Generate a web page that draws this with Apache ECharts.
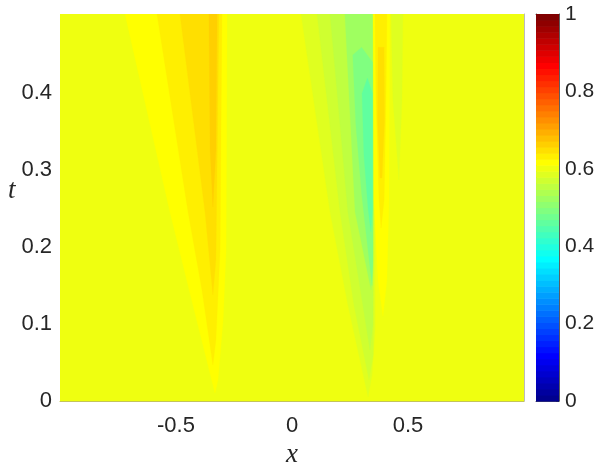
<!DOCTYPE html>
<html><head><meta charset="utf-8">
<script src="https://cdn.jsdelivr.net/npm/echarts@6/dist/echarts.min.js"></script>
<style>html,body{margin:0;padding:0;background:#fff}#c{width:598px;height:463px}</style>
</head><body><div id="c"></div>
<script>
// axis ranges and ticks
const xRange = [-1, 1];
const tRange = [0, 0.5033];
const xTicks = [-0.5, 0, 0.5];
const tTicks = [0, 0.1, 0.2, 0.3, 0.4];
const cbTicks = [0, 0.2, 0.4, 0.6, 0.8, 1];

// contour regions: outlines in (x, t) data units, painted in order
const background = [[-1, 0], [1, 0], [1, 0.5033], [-1, 0.5033]];
const leftA = [[-0.720,0.5033],[-0.621,0.3719],[-0.526,0.2458],[-0.427,0.1248],[-0.332,0.0104],[-0.319,0.0273],[-0.297,0.1053],[-0.284,0.1964],[-0.280,0.5033]];
const leftB = [[-0.582,0.5033],[-0.448,0.2458],[-0.388,0.1443],[-0.341,0.0468],[-0.328,0.0793],[-0.310,0.1964],[-0.302,0.5033]];
const leftC = [[-0.483,0.5033],[-0.375,0.2458],[-0.341,0.1378],[-0.328,0.1834],[-0.315,0.5033]];
const leftD = [[-0.358,0.5033],[-0.353,0.3264],[-0.341,0.2523],[-0.328,0.3264],[-0.323,0.5033]];
const rightE = [[0.039,0.5033],[0.164,0.2458],[0.241,0.1248],[0.328,0.0052],[0.345,0.0338],[0.358,0.0923],[0.358,0.5033]];
const rightF = [[0.108,0.5033],[0.207,0.2458],[0.267,0.1248],[0.332,0.0273],[0.350,0.0600],[0.355,0.5033]];
const rightG = [[0.164,0.5033],[0.241,0.2458],[0.302,0.1313],[0.336,0.0663],[0.349,0.1000],[0.352,0.5033]];
const rightH = [[0.228,0.5033],[0.272,0.2458],[0.341,0.1443],[0.348,0.1800],[0.350,0.5033]];
const rightI = [[0.262,0.4500],[0.275,0.3600],[0.300,0.2700],[0.330,0.1900],[0.345,0.1500],[0.349,0.1800],[0.349,0.4400],[0.300,0.4600]];
const rightJ = [[0.302,0.4000],[0.310,0.3200],[0.328,0.2500],[0.340,0.2200],[0.347,0.2500],[0.347,0.4000],[0.325,0.4200]];
const stripeK = [[0.349,0.5033],[0.353,0.2614],[0.371,0.1573],[0.392,0.1105],[0.409,0.1573],[0.418,0.2614],[0.422,0.5033]];
const stripeL = [[0.358,0.5033],[0.362,0.3914],[0.375,0.2614],[0.384,0.2250],[0.397,0.2614],[0.405,0.3914],[0.409,0.5033]];
const stripeM = [[0.371,0.4600],[0.369,0.3654],[0.379,0.2900],[0.388,0.2900],[0.399,0.3654],[0.397,0.4600]];
const stripeN = [[0.427,0.5033],[0.435,0.3914],[0.461,0.2874],[0.474,0.3914],[0.478,0.5033]];

const regionShapes = [background, leftA, leftB, leftC, leftD, rightE, rightF, rightG, rightH, rightI, rightJ, stripeK, stripeL, stripeM, stripeN];
const regionLevels = [0.600, 0.617, 0.633, 0.648, 0.664, 0.586, 0.570, 0.555, 0.523, 0.492, 0.461, 0.617, 0.633, 0.648, 0.586];

// MATLAB jet(64) colormap
function U(j){ if (j < 1 || j > 47) return 0; if (j <= 16) return j/16; if (j <= 31) return 1; return (48-j)/16; }
function jetRow(k){
  const c = [U(k-24), U(k-8), U(k+8)].map(v => Math.round(v*255));
  return 'rgb(' + c.join(',') + ')';
}
function jetColor(v){ const k = Math.max(1, Math.min(64, Math.floor(v*64)+1)); return jetRow(k); }
const cbRows = Array.from({length: 64}, (_, i) => [i]);

const txt = '#262626';
const sans = 'Liberation Sans';
const serif = 'Liberation Serif';
const hidden = {axisLabel:{show:false}, axisTick:{show:false}, splitLine:{show:false}};

const chart = echarts.init(document.getElementById('c'), null, {renderer:'canvas'});
chart.setOption({
  animation: false,
  backgroundColor: '#fff',
  grid: [
    {left: 60, top: 14, width: 464, height: 387, containLabel:false, outerBoundsMode:'none'},
    {left: 536, top: 14, width: 23, height: 387, containLabel:false, outerBoundsMode:'none'}
  ],
  xAxis: [
    {gridIndex:0, type:'value', min:xRange[0], max:xRange[1], interval:0.5,
     axisLine:{show:true, onZero:false, lineStyle:{color:'#c4c45a', width:1}},
     axisTick:{show:false}, splitLine:{show:false},
     axisLabel:{fontSize:22, color:txt, fontFamily:sans, margin:14,
       formatter: v => xTicks.some(t => Math.abs(t - v) < 1e-9) ? String(+v.toFixed(1)) : ''},
     name:'x', nameLocation:'middle', nameGap:40,
     nameTextStyle:{fontFamily:serif, fontStyle:'italic', fontSize:27, color:txt}},
    Object.assign({gridIndex:1, type:'value', min:0, max:1,
     axisLine:{show:true, onZero:false, lineStyle:{color:'#333', width:0.8}}}, hidden),
    Object.assign({gridIndex:1, type:'value', min:0, max:1, position:'top',
     axisLine:{show:true, onZero:false, lineStyle:{color:'#333', width:0.8}}}, hidden)
  ],
  yAxis: [
    {gridIndex:0, type:'value', min:tRange[0], max:tRange[1], interval:0.1,
     axisLine:{show:false}, axisTick:{show:false}, splitLine:{show:false},
     axisLabel:{fontSize:22, color:txt, fontFamily:sans, margin:8,
       formatter: v => tTicks.some(t => Math.abs(t - v) < 1e-9) ? String(+v.toFixed(1)) : ''},
     name:'t', nameLocation:'middle', nameRotate:0, nameGap:35,
     nameTextStyle:{fontFamily:serif, fontStyle:'italic', fontSize:27, color:txt, verticalAlign:'bottom', padding:[0,0,3,0]}},
    Object.assign({gridIndex:0, type:'value', min:tRange[0], max:tRange[1], position:'right',
     axisLine:{show:true, onZero:false, lineStyle:{color:'#bbbbbb', width:1}}}, hidden),
    {gridIndex:1, type:'value', min:0, max:1, interval:0.2, position:'right',
     axisLine:{show:true, onZero:false, lineStyle:{color:'#333', width:0.8}},
     axisTick:{show:true, inside:true, length:3, lineStyle:{color:'#333', width:0.8}},
     splitLine:{show:false},
     axisLabel:{fontSize:21, color:txt, fontFamily:sans, margin:6,
       formatter: v => cbTicks.some(t => Math.abs(t - v) < 1e-9) ? String(+v.toFixed(1)) : ''}},
    Object.assign({gridIndex:1, type:'value', min:0, max:1, position:'left',
     axisLine:{show:true, onZero:false, lineStyle:{color:'#333', width:0.8}}}, hidden)
  ],
  series: [
    {type:'custom', xAxisIndex:0, yAxisIndex:0, clip:true, silent:true,
     data: regionLevels.map((lv, i) => [i, lv]),
     renderItem: (params, api) => {
       const i = api.value(0);
       const pts = regionShapes[i].map(p => api.coord(p));
       return {type:'polygon', shape:{points: pts}, style:{fill: jetColor(api.value(1)), stroke: jetColor(api.value(1)), lineWidth: 0.3}};
     }},
    {type:'custom', xAxisIndex:1, yAxisIndex:2, silent:true, z:1,
     data: cbRows,
     renderItem: (params, api) => {
       const i = api.value(0);
       const p0 = api.coord([0, i/64]);
       const p1 = api.coord([1, (i+1)/64]);
       return {type:'rect', shape:{x:p0[0], y:p1[1], width:p1[0]-p0[0], height:p0[1]-p1[1]+0.6},
               style:{fill: jetRow(i+1)}};
     }}
  ]
});
</script></body></html>
